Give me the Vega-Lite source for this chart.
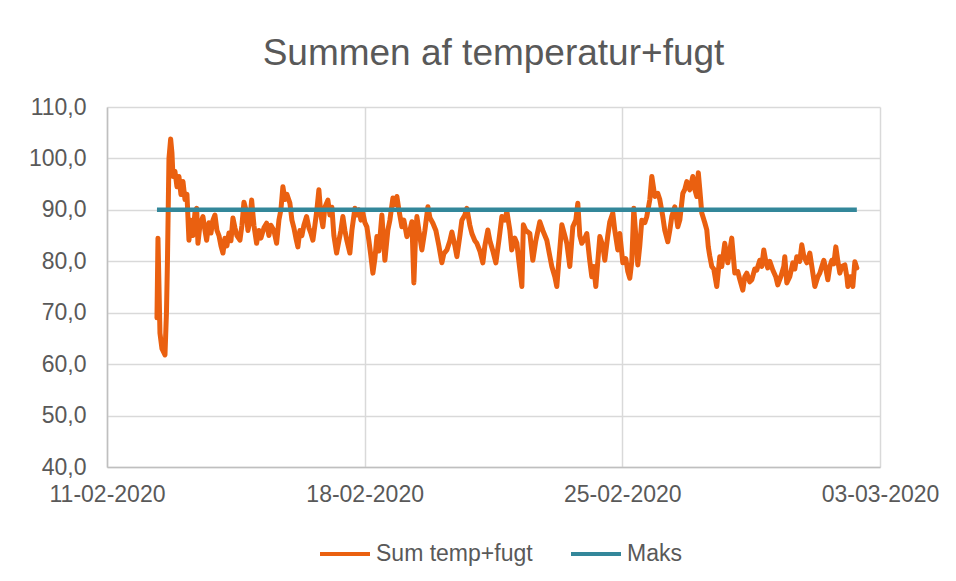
{
  "$schema": "https://vega.github.io/schema/vega-lite/v6.json",
  "width": 773,
  "height": 360,
  "autosize": "none",
  "padding": {"left": 107, "top": 107, "right": 76, "bottom": 114},
  "background": "white",
  "title": {"text": "Summen af temperatur+fugt", "fontSize": 37, "font": "Liberation Sans", "fontWeight": "normal", "color": "#595959", "anchor": "middle", "frame": "group", "offset": 23},
  "config": {
    "view": {"stroke": null},
    "font": "Liberation Sans",
    "axis": {"labelFont": "Liberation Sans", "labelFontSize": 23, "labelColor": "#595959", "gridColor": "#D9D9D9", "gridWidth": 1.5, "domainColor": "#BFBFBF", "domainWidth": 1.5, "ticks": false, "title": null},
    "legend": {"labelFont": "Liberation Sans", "labelFontSize": 23, "labelColor": "#595959"}
  },
  "datasets": {
    "sum": [
      {"t": "2020-02-12T08:35", "v": 69.0},
      {"t": "2020-02-12T09:14", "v": 84.5},
      {"t": "2020-02-12T10:32", "v": 66.0},
      {"t": "2020-02-12T11:50", "v": 63.0},
      {"t": "2020-02-12T13:48", "v": 61.8},
      {"t": "2020-02-12T14:46", "v": 70.0},
      {"t": "2020-02-12T15:25", "v": 80.0},
      {"t": "2020-02-12T16:24", "v": 100.0},
      {"t": "2020-02-12T17:30", "v": 103.8},
      {"t": "2020-02-12T18:22", "v": 101.0},
      {"t": "2020-02-12T19:00", "v": 96.5},
      {"t": "2020-02-12T20:18", "v": 97.5},
      {"t": "2020-02-12T21:37", "v": 94.5},
      {"t": "2020-02-12T22:55", "v": 96.5},
      {"t": "2020-02-13T00:13", "v": 93.0},
      {"t": "2020-02-13T01:32", "v": 95.5},
      {"t": "2020-02-13T02:50", "v": 92.0},
      {"t": "2020-02-13T04:08", "v": 93.0},
      {"t": "2020-02-13T05:26", "v": 84.1},
      {"t": "2020-02-13T06:44", "v": 88.0},
      {"t": "2020-02-13T08:03", "v": 85.0},
      {"t": "2020-02-13T09:21", "v": 89.5},
      {"t": "2020-02-13T10:27", "v": 90.3},
      {"t": "2020-02-13T11:18", "v": 83.5},
      {"t": "2020-02-13T12:36", "v": 87.0},
      {"t": "2020-02-13T14:33", "v": 88.7},
      {"t": "2020-02-13T15:52", "v": 86.0},
      {"t": "2020-02-13T16:58", "v": 84.1},
      {"t": "2020-02-13T18:28", "v": 87.5},
      {"t": "2020-02-13T19:47", "v": 85.5},
      {"t": "2020-02-13T21:05", "v": 88.0},
      {"t": "2020-02-13T22:23", "v": 89.0},
      {"t": "2020-02-13T23:41", "v": 86.0},
      {"t": "2020-02-14T01:00", "v": 85.0},
      {"t": "2020-02-14T02:18", "v": 83.0},
      {"t": "2020-02-14T03:36", "v": 81.6},
      {"t": "2020-02-14T04:54", "v": 84.5},
      {"t": "2020-02-14T06:12", "v": 83.0},
      {"t": "2020-02-14T07:31", "v": 85.5},
      {"t": "2020-02-14T08:49", "v": 84.0},
      {"t": "2020-02-14T10:07", "v": 88.4},
      {"t": "2020-02-14T11:25", "v": 86.5},
      {"t": "2020-02-14T12:43", "v": 85.0},
      {"t": "2020-02-14T14:41", "v": 84.1},
      {"t": "2020-02-14T15:59", "v": 87.0},
      {"t": "2020-02-14T17:17", "v": 91.5},
      {"t": "2020-02-14T18:35", "v": 90.0},
      {"t": "2020-02-14T19:54", "v": 86.0},
      {"t": "2020-02-14T21:12", "v": 88.0},
      {"t": "2020-02-14T22:18", "v": 91.9},
      {"t": "2020-02-14T23:48", "v": 87.0},
      {"t": "2020-02-15T01:33", "v": 83.5},
      {"t": "2020-02-15T03:03", "v": 86.0},
      {"t": "2020-02-15T04:21", "v": 84.5},
      {"t": "2020-02-15T06:19", "v": 86.5},
      {"t": "2020-02-15T08:04", "v": 87.4},
      {"t": "2020-02-15T09:34", "v": 85.0},
      {"t": "2020-02-15T10:52", "v": 87.0},
      {"t": "2020-02-15T12:50", "v": 86.0},
      {"t": "2020-02-15T14:35", "v": 83.5},
      {"t": "2020-02-15T16:05", "v": 88.0},
      {"t": "2020-02-15T17:23", "v": 90.0},
      {"t": "2020-02-15T18:41", "v": 94.5},
      {"t": "2020-02-15T20:00", "v": 92.0},
      {"t": "2020-02-15T21:18", "v": 93.0},
      {"t": "2020-02-15T23:15", "v": 91.3},
      {"t": "2020-02-16T00:34", "v": 88.0},
      {"t": "2020-02-16T01:52", "v": 86.5},
      {"t": "2020-02-16T03:10", "v": 84.5},
      {"t": "2020-02-16T04:28", "v": 82.8},
      {"t": "2020-02-16T05:46", "v": 86.0},
      {"t": "2020-02-16T07:05", "v": 85.0},
      {"t": "2020-02-16T08:23", "v": 87.0},
      {"t": "2020-02-16T10:08", "v": 88.7},
      {"t": "2020-02-16T11:38", "v": 86.5},
      {"t": "2020-02-16T12:56", "v": 85.5},
      {"t": "2020-02-16T14:15", "v": 84.1},
      {"t": "2020-02-16T15:33", "v": 87.0},
      {"t": "2020-02-16T16:51", "v": 90.0},
      {"t": "2020-02-16T18:09", "v": 93.9},
      {"t": "2020-02-16T19:27", "v": 89.0},
      {"t": "2020-02-16T20:46", "v": 86.7},
      {"t": "2020-02-16T22:04", "v": 90.5},
      {"t": "2020-02-17T00:01", "v": 91.9},
      {"t": "2020-02-17T01:20", "v": 89.0},
      {"t": "2020-02-17T02:38", "v": 90.5},
      {"t": "2020-02-17T03:56", "v": 85.0},
      {"t": "2020-02-17T05:42", "v": 81.6},
      {"t": "2020-02-17T07:12", "v": 84.0},
      {"t": "2020-02-17T08:30", "v": 86.0},
      {"t": "2020-02-17T09:48", "v": 88.7},
      {"t": "2020-02-17T11:06", "v": 86.0},
      {"t": "2020-02-17T12:25", "v": 84.0},
      {"t": "2020-02-17T14:22", "v": 81.6},
      {"t": "2020-02-17T15:40", "v": 86.0},
      {"t": "2020-02-17T17:38", "v": 90.3},
      {"t": "2020-02-17T18:56", "v": 89.0},
      {"t": "2020-02-17T20:14", "v": 90.0},
      {"t": "2020-02-17T21:33", "v": 88.0},
      {"t": "2020-02-17T22:51", "v": 89.4},
      {"t": "2020-02-18T00:09", "v": 87.5},
      {"t": "2020-02-18T01:27", "v": 86.7},
      {"t": "2020-02-18T02:45", "v": 84.0},
      {"t": "2020-02-18T04:04", "v": 81.0},
      {"t": "2020-02-18T05:22", "v": 77.7},
      {"t": "2020-02-18T06:40", "v": 80.5},
      {"t": "2020-02-18T07:58", "v": 84.8},
      {"t": "2020-02-18T09:16", "v": 82.0},
      {"t": "2020-02-18T11:13", "v": 89.0},
      {"t": "2020-02-18T13:11", "v": 80.2},
      {"t": "2020-02-18T15:08", "v": 86.1},
      {"t": "2020-02-18T16:26", "v": 88.0},
      {"t": "2020-02-18T18:24", "v": 92.3},
      {"t": "2020-02-18T19:42", "v": 91.0},
      {"t": "2020-02-18T21:00", "v": 92.6},
      {"t": "2020-02-18T22:19", "v": 90.0},
      {"t": "2020-02-19T00:16", "v": 86.7},
      {"t": "2020-02-19T01:34", "v": 88.0},
      {"t": "2020-02-19T03:31", "v": 84.8},
      {"t": "2020-02-19T05:29", "v": 86.0},
      {"t": "2020-02-19T06:47", "v": 87.7},
      {"t": "2020-02-19T08:05", "v": 75.8},
      {"t": "2020-02-19T09:04", "v": 84.0},
      {"t": "2020-02-19T10:03", "v": 88.7},
      {"t": "2020-02-19T11:21", "v": 86.0},
      {"t": "2020-02-19T13:18", "v": 82.2},
      {"t": "2020-02-19T15:16", "v": 86.0},
      {"t": "2020-02-19T17:13", "v": 90.6},
      {"t": "2020-02-19T18:31", "v": 88.5},
      {"t": "2020-02-19T20:29", "v": 87.4},
      {"t": "2020-02-19T22:26", "v": 86.0},
      {"t": "2020-02-20T00:24", "v": 83.0},
      {"t": "2020-02-20T02:21", "v": 79.7},
      {"t": "2020-02-20T03:39", "v": 81.5},
      {"t": "2020-02-20T05:37", "v": 82.2},
      {"t": "2020-02-20T07:34", "v": 84.0},
      {"t": "2020-02-20T08:52", "v": 85.7},
      {"t": "2020-02-20T10:50", "v": 83.0},
      {"t": "2020-02-20T12:08", "v": 80.9},
      {"t": "2020-02-20T14:05", "v": 85.0},
      {"t": "2020-02-20T15:23", "v": 88.0},
      {"t": "2020-02-20T17:20", "v": 89.0},
      {"t": "2020-02-20T18:38", "v": 90.3},
      {"t": "2020-02-20T20:35", "v": 87.0},
      {"t": "2020-02-20T21:54", "v": 85.4},
      {"t": "2020-02-20T23:51", "v": 84.0},
      {"t": "2020-02-21T01:09", "v": 83.5},
      {"t": "2020-02-21T03:07", "v": 82.0},
      {"t": "2020-02-21T05:04", "v": 79.7},
      {"t": "2020-02-21T06:22", "v": 83.0},
      {"t": "2020-02-21T08:19", "v": 86.1},
      {"t": "2020-02-21T09:38", "v": 84.0},
      {"t": "2020-02-21T11:35", "v": 82.0},
      {"t": "2020-02-21T13:33", "v": 79.7},
      {"t": "2020-02-21T15:30", "v": 84.0},
      {"t": "2020-02-21T17:27", "v": 88.7},
      {"t": "2020-02-21T19:25", "v": 88.0},
      {"t": "2020-02-21T20:43", "v": 89.7},
      {"t": "2020-02-21T22:40", "v": 86.0},
      {"t": "2020-02-21T23:54", "v": 82.2},
      {"t": "2020-02-22T01:54", "v": 84.5},
      {"t": "2020-02-22T03:14", "v": 83.5},
      {"t": "2020-02-22T04:32", "v": 80.0},
      {"t": "2020-02-22T06:30", "v": 75.1},
      {"t": "2020-02-22T07:28", "v": 87.1},
      {"t": "2020-02-22T09:05", "v": 86.0},
      {"t": "2020-02-22T11:41", "v": 85.4},
      {"t": "2020-02-22T13:38", "v": 80.2},
      {"t": "2020-02-22T15:36", "v": 84.0},
      {"t": "2020-02-22T18:12", "v": 87.7},
      {"t": "2020-02-22T20:09", "v": 86.0},
      {"t": "2020-02-22T22:46", "v": 84.1},
      {"t": "2020-02-23T00:43", "v": 81.0},
      {"t": "2020-02-23T02:01", "v": 79.0},
      {"t": "2020-02-23T03:59", "v": 77.0},
      {"t": "2020-02-23T05:17", "v": 75.1},
      {"t": "2020-02-23T06:35", "v": 80.0},
      {"t": "2020-02-23T08:33", "v": 87.1},
      {"t": "2020-02-23T10:30", "v": 85.0},
      {"t": "2020-02-23T11:48", "v": 83.5},
      {"t": "2020-02-23T13:45", "v": 79.0},
      {"t": "2020-02-23T15:43", "v": 86.7},
      {"t": "2020-02-23T17:40", "v": 88.0},
      {"t": "2020-02-23T18:58", "v": 91.3},
      {"t": "2020-02-23T20:17", "v": 85.0},
      {"t": "2020-02-23T21:35", "v": 83.5},
      {"t": "2020-02-23T23:32", "v": 84.5},
      {"t": "2020-02-24T00:50", "v": 85.4},
      {"t": "2020-02-24T02:48", "v": 80.0},
      {"t": "2020-02-24T04:06", "v": 77.0},
      {"t": "2020-02-24T05:24", "v": 79.0},
      {"t": "2020-02-24T06:42", "v": 75.1},
      {"t": "2020-02-24T08:01", "v": 80.0},
      {"t": "2020-02-24T09:19", "v": 84.8},
      {"t": "2020-02-24T11:16", "v": 83.0},
      {"t": "2020-02-24T12:34", "v": 80.2},
      {"t": "2020-02-24T14:31", "v": 85.0},
      {"t": "2020-02-24T15:50", "v": 87.7},
      {"t": "2020-02-24T17:47", "v": 89.4},
      {"t": "2020-02-24T19:05", "v": 86.0},
      {"t": "2020-02-24T21:03", "v": 82.2},
      {"t": "2020-02-24T22:21", "v": 85.4},
      {"t": "2020-02-25T00:18", "v": 79.7},
      {"t": "2020-02-25T02:16", "v": 80.5},
      {"t": "2020-02-25T03:34", "v": 78.0},
      {"t": "2020-02-25T04:52", "v": 76.7},
      {"t": "2020-02-25T06:10", "v": 80.0},
      {"t": "2020-02-25T07:29", "v": 90.3},
      {"t": "2020-02-25T08:47", "v": 85.0},
      {"t": "2020-02-25T10:05", "v": 79.3},
      {"t": "2020-02-25T11:23", "v": 83.0},
      {"t": "2020-02-25T12:42", "v": 88.0},
      {"t": "2020-02-25T14:39", "v": 87.5},
      {"t": "2020-02-25T15:57", "v": 88.7},
      {"t": "2020-02-25T17:55", "v": 92.0},
      {"t": "2020-02-25T19:13", "v": 96.5},
      {"t": "2020-02-25T21:10", "v": 92.6},
      {"t": "2020-02-25T23:08", "v": 93.2},
      {"t": "2020-02-26T00:26", "v": 92.0},
      {"t": "2020-02-26T02:23", "v": 88.7},
      {"t": "2020-02-26T03:41", "v": 86.0},
      {"t": "2020-02-26T05:39", "v": 83.8},
      {"t": "2020-02-26T06:57", "v": 86.0},
      {"t": "2020-02-26T08:15", "v": 88.7},
      {"t": "2020-02-26T10:13", "v": 90.6},
      {"t": "2020-02-26T12:10", "v": 86.7},
      {"t": "2020-02-26T13:28", "v": 88.0},
      {"t": "2020-02-26T15:26", "v": 93.2},
      {"t": "2020-02-26T16:44", "v": 94.0},
      {"t": "2020-02-26T18:02", "v": 95.5},
      {"t": "2020-02-26T20:00", "v": 93.9},
      {"t": "2020-02-26T21:57", "v": 96.5},
      {"t": "2020-02-26T23:15", "v": 94.0},
      {"t": "2020-02-27T00:33", "v": 92.6},
      {"t": "2020-02-27T01:32", "v": 97.2},
      {"t": "2020-02-27T02:30", "v": 94.0},
      {"t": "2020-02-27T03:48", "v": 89.4},
      {"t": "2020-02-27T05:46", "v": 87.5},
      {"t": "2020-02-27T07:04", "v": 86.1},
      {"t": "2020-02-27T08:03", "v": 82.8},
      {"t": "2020-02-27T09:01", "v": 81.0},
      {"t": "2020-02-27T10:19", "v": 79.0},
      {"t": "2020-02-27T11:37", "v": 78.5},
      {"t": "2020-02-27T13:34", "v": 75.1},
      {"t": "2020-02-27T15:32", "v": 80.9},
      {"t": "2020-02-27T16:50", "v": 79.0},
      {"t": "2020-02-27T18:47", "v": 83.5},
      {"t": "2020-02-27T20:45", "v": 79.7},
      {"t": "2020-02-27T22:03", "v": 82.0},
      {"t": "2020-02-27T23:21", "v": 84.5},
      {"t": "2020-02-28T01:19", "v": 77.7},
      {"t": "2020-02-28T03:17", "v": 78.0},
      {"t": "2020-02-28T04:35", "v": 76.5},
      {"t": "2020-02-28T06:32", "v": 74.4},
      {"t": "2020-02-28T07:50", "v": 77.0},
      {"t": "2020-02-28T09:08", "v": 77.7},
      {"t": "2020-02-28T11:06", "v": 76.0},
      {"t": "2020-02-28T12:24", "v": 76.4},
      {"t": "2020-02-28T14:21", "v": 78.5},
      {"t": "2020-02-28T15:40", "v": 78.3},
      {"t": "2020-02-28T17:37", "v": 80.2},
      {"t": "2020-02-28T18:55", "v": 79.0},
      {"t": "2020-02-28T20:13", "v": 82.2},
      {"t": "2020-02-28T21:32", "v": 80.0},
      {"t": "2020-02-28T22:50", "v": 78.7},
      {"t": "2020-02-29T00:08", "v": 80.0},
      {"t": "2020-02-29T02:06", "v": 78.3},
      {"t": "2020-02-29T04:03", "v": 77.0},
      {"t": "2020-02-29T05:21", "v": 75.4},
      {"t": "2020-02-29T07:19", "v": 77.0},
      {"t": "2020-02-29T09:16", "v": 79.0},
      {"t": "2020-02-29T09:55", "v": 80.9},
      {"t": "2020-02-29T11:14", "v": 75.8},
      {"t": "2020-02-29T13:11", "v": 77.0},
      {"t": "2020-02-29T15:09", "v": 79.7},
      {"t": "2020-02-29T16:27", "v": 78.5},
      {"t": "2020-02-29T17:45", "v": 80.9},
      {"t": "2020-02-29T19:42", "v": 80.0},
      {"t": "2020-02-29T21:01", "v": 83.2},
      {"t": "2020-02-29T22:19", "v": 81.0},
      {"t": "2020-03-01T00:18", "v": 79.7},
      {"t": "2020-03-01T02:15", "v": 81.6},
      {"t": "2020-03-01T03:33", "v": 79.0},
      {"t": "2020-03-01T05:31", "v": 75.1},
      {"t": "2020-03-01T07:28", "v": 77.0},
      {"t": "2020-03-01T08:46", "v": 77.7},
      {"t": "2020-03-01T10:05", "v": 79.0},
      {"t": "2020-03-01T11:23", "v": 80.2},
      {"t": "2020-03-01T12:41", "v": 78.5},
      {"t": "2020-03-01T13:59", "v": 76.4},
      {"t": "2020-03-01T15:18", "v": 79.0},
      {"t": "2020-03-01T16:36", "v": 80.2},
      {"t": "2020-03-01T17:54", "v": 79.5},
      {"t": "2020-03-01T19:12", "v": 82.8},
      {"t": "2020-03-01T20:31", "v": 80.0},
      {"t": "2020-03-01T21:49", "v": 77.7},
      {"t": "2020-03-01T23:07", "v": 79.0},
      {"t": "2020-03-02T01:05", "v": 79.3},
      {"t": "2020-03-02T02:23", "v": 77.0},
      {"t": "2020-03-02T03:02", "v": 75.1},
      {"t": "2020-03-02T04:20", "v": 77.0},
      {"t": "2020-03-02T05:38", "v": 77.0},
      {"t": "2020-03-02T06:17", "v": 75.1},
      {"t": "2020-03-02T07:36", "v": 79.9},
      {"t": "2020-03-02T08:54", "v": 78.7}
    ],
    "maks": [
      {"t": "2020-02-12T08:35", "v": 90},
      {"t": "2020-03-02T08:54", "v": 90}
    ]
  },
  "encoding": {
    "x": {
      "field": "t", "type": "temporal",
      "scale": {"domain": [{"year": 2020, "month": 2, "date": 11}, {"year": 2020, "month": 3, "date": 3}]},
      "axis": {"values": [{"year": 2020, "month": 2, "date": 11}, {"year": 2020, "month": 2, "date": 18}, {"year": 2020, "month": 2, "date": 25}, {"year": 2020, "month": 3, "date": 3}], "format": "%d-%m-%Y", "labelPadding": 16, "grid": true, "labelFlush": false, "labelOverlap": false}
    },
    "y": {
      "field": "v", "type": "quantitative",
      "scale": {"domain": [40, 110], "nice": false},
      "axis": {"values": [40, 50, 60, 70, 80, 90, 100, 110], "labelExpr": "replace(format(datum.value, '.1f'), '.', ',')", "labelPadding": 21, "grid": true}
    },
    "color": {
      "field": "s", "type": "nominal",
      "scale": {"domain": ["Sum temp+fugt", "Maks"], "range": ["#EA6010", "#33879A"]},
      "legend": {"title": null, "orient": "none", "direction": "horizontal", "legendX": 211, "legendY": 420, "symbolType": "stroke", "symbolSize": 2500, "symbolStrokeWidth": 4, "columnPadding": 30, "labelOffset": 4}
    }
  },
  "layer": [
    {
      "data": {"name": "sum"},
      "transform": [{"calculate": "'Sum temp+fugt'", "as": "s"}],
      "mark": {"type": "line", "strokeWidth": 5, "strokeJoin": "round", "strokeCap": "round"}
    },
    {
      "data": {"name": "maks"},
      "transform": [{"calculate": "'Maks'", "as": "s"}],
      "mark": {"type": "line", "strokeWidth": 4.5, "strokeCap": "butt"}
    }
  ]
}
